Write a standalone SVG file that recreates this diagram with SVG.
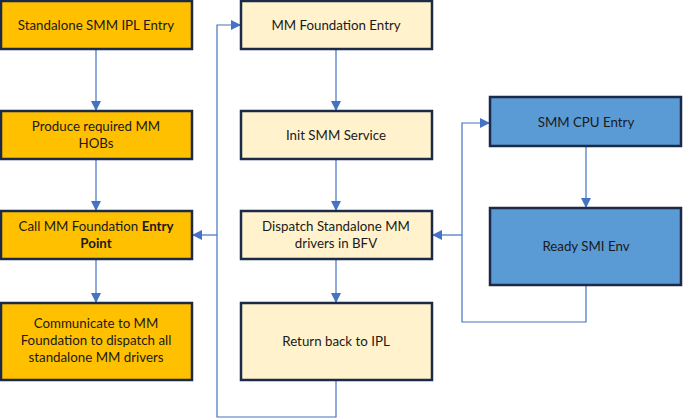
<svg xmlns="http://www.w3.org/2000/svg" width="683" height="419" viewBox="0 0 683 419">
<style>
.box{stroke:#1B2A47;stroke-width:2.5}
.o{fill:#FFC000}.y{fill:#FFF2CC}.b{fill:#5B9BD5}
text{font-family:Lato,"Liberation Sans",sans-serif;font-size:13.3px;fill:#1a1a1a;text-anchor:middle}
.c{fill:none;stroke:#4472C4;stroke-width:1.2}
</style>
<defs>
<marker id="ah" viewBox="0 0 10 10" refX="10" refY="5" markerWidth="10" markerHeight="10" markerUnits="userSpaceOnUse" orient="auto">
<path d="M0,0 L10,5 L0,10 z" fill="#4472C4"/>
</marker>
</defs>
<g id="connectors">
<path class="c" d="M96,49 V111" marker-end="url(#ah)"/>
<path class="c" d="M96,159 V211" marker-end="url(#ah)"/>
<path class="c" d="M96,259 V303" marker-end="url(#ah)"/>
<path class="c" d="M336,49 V111" marker-end="url(#ah)"/>
<path class="c" d="M336,159 V211" marker-end="url(#ah)"/>
<path class="c" d="M336,259 V303" marker-end="url(#ah)"/>
<path class="c" d="M336,380 V417 H217 V25 H241" marker-end="url(#ah)"/>
<path class="c" d="M217,235 H192" marker-end="url(#ah)"/>
<path class="c" d="M586,146 V208" marker-end="url(#ah)"/>
<path class="c" d="M586,285 V322 H462 V123 H490" marker-end="url(#ah)"/>
<path class="c" d="M462,235 H432" marker-end="url(#ah)"/>
</g>
<g id="ipl-entry"><rect class="box o" x="1" y="1" width="191" height="48"/><text x="96" y="29.5">Standalone SMM IPL Entry</text></g>
<g id="produce-hobs"><rect class="box o" x="1" y="111" width="191" height="48"/><text x="96" y="131">Produce required MM</text><text x="96" y="148">HOBs</text></g>
<g id="call-foundation"><rect class="box o" x="1" y="211" width="191" height="48"/><text x="96" y="231">Call MM  Foundation <tspan font-weight="bold">Entry</tspan></text><text x="96" y="248" font-weight="bold">Point</text></g>
<g id="communicate"><rect class="box o" x="1" y="303" width="191" height="77"/><text x="96" y="328">Communicate to MM</text><text x="96" y="345">Foundation to dispatch all</text><text x="96" y="362">standalone MM drivers</text></g>
<g id="foundation-entry"><rect class="box y" x="241" y="1" width="191" height="48"/><text x="336" y="29.5">MM Foundation Entry</text></g>
<g id="init-smm"><rect class="box y" x="241" y="111" width="191" height="48"/><text x="336" y="140">Init SMM Service</text></g>
<g id="dispatch"><rect class="box y" x="241" y="211" width="191" height="48"/><text x="336" y="231">Dispatch Standalone MM</text><text x="336" y="248">drivers in BFV</text></g>
<g id="return-ipl"><rect class="box y" x="241" y="303" width="191" height="77"/><text x="336" y="346">Return back to IPL</text></g>
<g id="cpu-entry"><rect class="box b" x="490" y="97" width="191" height="49"/><text x="586" y="127">SMM CPU Entry</text></g>
<g id="ready-smi"><rect class="box b" x="490" y="208" width="191" height="77"/><text x="586" y="251">Ready SMI Env</text></g>
</svg>
